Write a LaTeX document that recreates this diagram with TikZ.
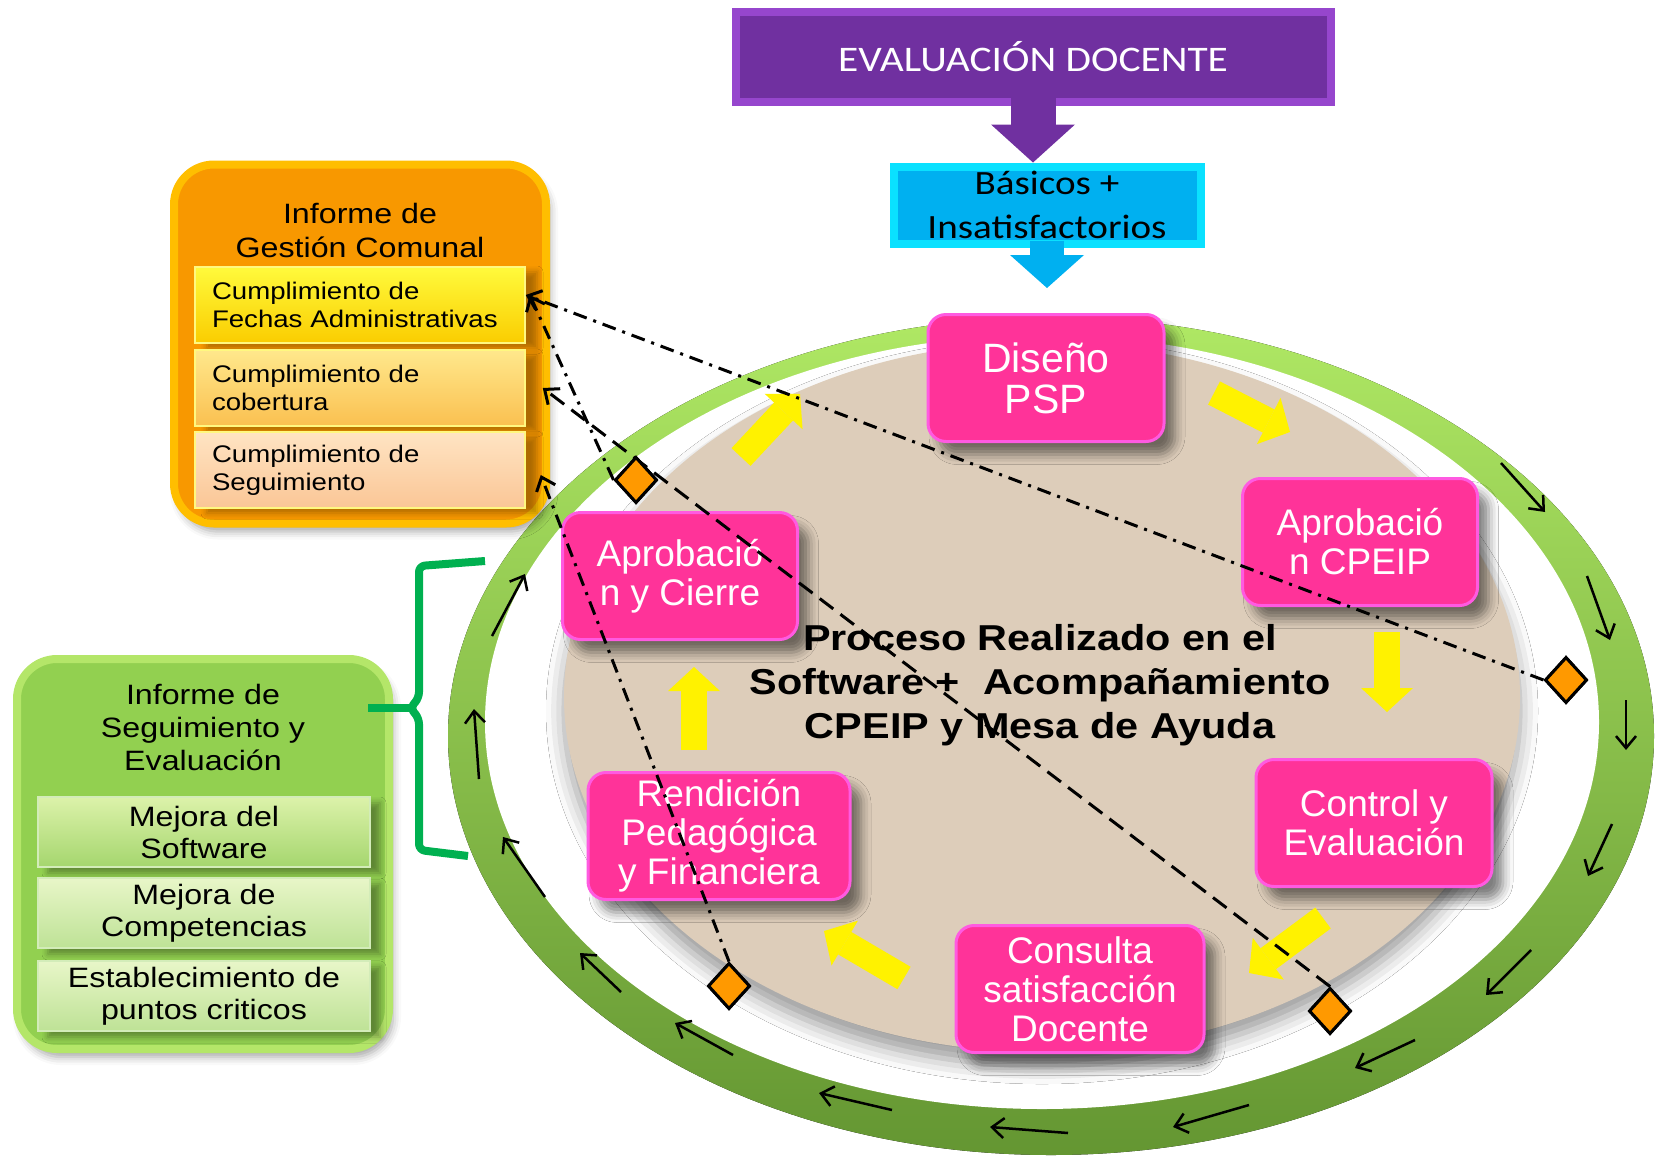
\documentclass[tikz,border=0pt]{standalone}
\usepackage{fontspec}
\setmainfont{Liberation Sans}
\newfontfamily\widefont{Liberation Sans}[FakeStretch=1.15]
\newfontfamily\calfont{Carlito}[FakeStretch=1.15]
\usetikzlibrary{arrows.meta,positioning,shapes.geometric,shadows.blur}
\definecolor{pinkbox}{RGB}{255,51,153}
\definecolor{pinkglow}{RGB}{255,90,225}
\definecolor{purplebox}{RGB}{112,48,160}
\definecolor{purpleglow}{RGB}{150,70,205}
\definecolor{cyanbox}{RGB}{0,176,240}
\definecolor{cyanglow}{RGB}{10,225,255}
\definecolor{orangebox}{RGB}{248,152,0}
\definecolor{orangeglow}{RGB}{255,190,0}
\definecolor{greenbox}{RGB}{146,208,80}
\definecolor{greenglow}{RGB}{180,230,105}
\definecolor{bracegreen}{RGB}{0,176,80}
\definecolor{disctan}{RGB}{221,205,186}
\definecolor{ringlight}{RGB}{175,232,100}
\definecolor{ringdark}{RGB}{100,150,50}
\definecolor{diamorange}{RGB}{255,153,0}
\definecolor{barya}{RGB}{255,250,60}
\definecolor{baryb}{RGB}{250,205,0}
\definecolor{barpa}{RGB}{255,232,140}
\definecolor{barpb}{RGB}{250,192,80}
\definecolor{barqa}{RGB}{255,228,195}
\definecolor{barqb}{RGB}{250,198,150}
\definecolor{barga}{RGB}{220,242,170}
\definecolor{bargb}{RGB}{165,214,110}
\definecolor{barha}{RGB}{232,246,200}
\definecolor{barhb}{RGB}{190,226,150}
\tikzstyle{pinkstep}=[rectangle,rounded corners=18pt,fill=pinkbox,draw=pinkglow,line width=3pt,text=white,align=center,minimum width=236pt,minimum height=127pt,inner sep=0pt,font=\fontsize{37}{39}\selectfont,blur shadow={shadow xshift=11pt,shadow yshift=-13pt,shadow blur radius=10pt,shadow opacity=50}]
\tikzstyle{orbar}=[rectangle,minimum width=330pt,minimum height=76pt,inner sep=0pt,draw=white!50!yellow,line width=1.5pt,text width=296pt,align=left,font=\widefont\fontsize{24}{28}\selectfont,blur shadow={shadow xshift=12pt,shadow yshift=-5pt,shadow blur radius=6pt,shadow opacity=30}]
\tikzstyle{grbar}=[rectangle,minimum width=332pt,minimum height=70pt,inner sep=0pt,draw=white!60!greenbox,line width=1.5pt,align=center,font=\widefont\fontsize{28}{32}\selectfont,blur shadow={shadow xshift=10pt,shadow yshift=-6pt,shadow blur radius=6pt,shadow opacity=35}]
\tikzstyle{yarrow}=[draw=yellow,line width=26pt,-{Triangle[length=24pt,width=52pt,line width=0pt]}]
\tikzstyle{ringarrow}=[draw=black,line width=2.5pt,-{Straight Barb[length=12pt,width=20pt]}]
\tikzstyle{dashdot}=[draw=black,line width=3pt,dash pattern=on 14pt off 7pt on 3pt off 7pt,-{Straight Barb[length=12pt,width=20pt]}]
\tikzstyle{longdash}=[draw=black,line width=3pt,dash pattern=on 17pt off 9pt,-{Straight Barb[length=12pt,width=20pt]}]
\tikzstyle{diam}=[diamond,fill=diamorange,draw=black,line width=3pt,minimum width=42pt,minimum height=46pt,inner sep=0pt]
\tikzstyle{brace}=[draw=bracegreen,line width=8pt,line join=round]
\begin{document}
\begin{tikzpicture}[x=1pt,y=-1pt]
\useasboundingbox (0,0) rectangle (1656,1159);
\fill[top color=ringlight,bottom color=ringdark] (1051,736) ellipse [x radius=603pt,y radius=419pt];
\fill[white] (1042,722) ellipse [x radius=557pt,y radius=387pt];
\fill[disctan,blur shadow={shadow xshift=0pt,shadow yshift=-14pt,shadow blur radius=18pt,shadow opacity=40}] (1042,697) ellipse [x radius=478pt,y radius=355pt];
\node[font=\widefont\bfseries\fontsize{36}{44}\selectfont,align=center] (proc) at (1040,685) {Proceso Realizado en el\\Software + \ Acompañamiento\\CPEIP y Mesa de Ayuda};
\node[pinkstep,font=\fontsize{41}{41}\selectfont] (dis) at (1046,378) {Diseño\\PSP};
\node[pinkstep,minimum width=235pt] (cpe) at (1360,542) {Aprobació\\n CPEIP};
\node[pinkstep] (con) at (1374,823) {Control y\\Evaluación};
\node[pinkstep,minimum width=248pt] (cns) at (1080,989) {Consulta\\satisfacción\\Docente};
\node[pinkstep,minimum width=262pt] (ren) at (719,836) {Rendición\\Pedagógica\\y Financiera};
\node[pinkstep,minimum width=235pt] (cie) at (680,576) {Aprobació\\n y Cierre};
\coordinate (y1a) at (741,457); \coordinate (y1b) at (800,394);
\coordinate (y2a) at (1214,393); \coordinate (y2b) at (1290,432);
\coordinate (y3a) at (1387,632); \coordinate (y3b) at (1387,712);
\coordinate (y4a) at (1323,918); \coordinate (y4b) at (1249,973);
\coordinate (y5a) at (904,978); \coordinate (y5b) at (824,931);
\coordinate (y6a) at (694,750); \coordinate (y6b) at (694,667);
\draw[yarrow] (y1a) -- (y1b);
\draw[yarrow] (y2a) -- (y2b);
\draw[yarrow] (y3a) -- (y3b);
\draw[yarrow] (y4a) -- (y4b);
\draw[yarrow] (y5a) -- (y5b);
\draw[yarrow] (y6a) -- (y6b);
\draw[ringarrow] (1501,463) -- (1545,512);
\draw[ringarrow] (1587,576) -- (1610,640);
\draw[ringarrow] (1626,700) -- (1626,750);
\draw[ringarrow] (1612,824) -- (1588,876);
\draw[ringarrow] (1531,950) -- (1486,995);
\draw[ringarrow] (1415,1040) -- (1355,1068);
\draw[ringarrow] (1249,1105) -- (1173,1127);
\draw[ringarrow] (1068,1133) -- (990,1127);
\draw[ringarrow] (892,1110) -- (819,1093);
\draw[ringarrow] (733,1055) -- (675,1023);
\draw[ringarrow] (621,992) -- (580,953);
\draw[ringarrow] (545,897) -- (503,837);
\draw[ringarrow] (479,779) -- (474,709);
\draw[ringarrow] (492,636) -- (525,574);
\node[rectangle,rounded corners=40pt,fill=orangebox,draw=orangeglow,line width=8pt,minimum width=372pt,minimum height=359pt,blur shadow={shadow xshift=4pt,shadow yshift=-8pt,shadow blur radius=8pt,shadow opacity=35}] (ges) at (360,344) {};
\node[font=\widefont\fontsize{28}{34}\selectfont,align=center] (gestit) at (360,230) {Informe de\\Gestión Comunal};
\node[orbar,top color=barya,bottom color=baryb] (fec) at (360,305) {Cumplimiento de\\Fechas Administrativas};
\node[orbar,top color=barpa,bottom color=barpb] (cob) at (360,388) {Cumplimiento de\\cobertura};
\node[orbar,top color=barqa,bottom color=barqb] (sgm) at (360,470) {Cumplimiento de\\Seguimiento};
\node[rectangle,rounded corners=40pt,fill=greenbox,draw=greenglow,line width=8pt,minimum width=372pt,minimum height=390pt,blur shadow={shadow xshift=4pt,shadow yshift=-8pt,shadow blur radius=8pt,shadow opacity=35}] (seg) at (203,854) {};
\node[font=\widefont\fontsize{28}{33}\selectfont,align=center] (segtit) at (203,727) {Informe de\\Seguimiento y\\Evaluación};
\node[grbar,top color=barga,bottom color=bargb] (sof) at (204,832) {Mejora del\\Software};
\node[grbar,top color=barha,bottom color=barhb] (cmp) at (204,913) {Mejora de\\Competencias};
\node[grbar,top color=barha,bottom color=barhb] (pto) at (204,996) {Establecimiento de\\puntos criticos};
\coordinate (tip) at (410,708);
\draw[brace] ([xshift=-25pt,yshift=146pt]seg.east) -- (tip);
\draw[brace,rounded corners=6pt] (485,561) -- (419,566) -- (419,698) -- (tip) -- (419,718) -- (419,850) -- (468,856);
\node[rectangle,fill=purplebox,draw=purpleglow,line width=8pt,minimum width=595pt,minimum height=90pt,text=white,font=\calfont\fontsize{36}{40}\selectfont] (eval) at (1033,57) {EVALUACIÓN DOCENTE};
\node[rectangle,fill=cyanbox,draw=cyanglow,line width=8pt,minimum width=307pt,minimum height=77pt,inner sep=0pt,align=center,font=\calfont\fontsize{34}{44}\selectfont] (bas) at (1047,205) {Básicos +\\Insatisfactorios};
\draw[draw=purplebox,line width=45pt,-{Triangle[length=38pt,width=84pt,line width=0pt]}] ([yshift=14pt]eval.south) -- (eval.south |- bas.north);
\draw[draw=cyanbox,line width=34pt,-{Triangle[length=33pt,width=74pt,line width=0pt]}] ([yshift=7pt]bas.south) -- ([yshift=25pt]bas.south |- dis.north);
\node[diam] (dtl) at (636,480) {};
\node[diam] (dr) at (1566,680) {};
\node[diam] (dbr) at (1330,1011) {};
\node[diam] (dbl) at (729,986) {};
\draw[dashdot] (dr.west) -- ([yshift=10pt]fec.east);
\draw[dashdot] (dtl.west) -- ([xshift=4pt,yshift=10pt]fec.east);
\draw[longdash] (dbr.north) -- ([xshift=17pt]cob.east);
\draw[dashdot] (dbl.north) -- ([xshift=15pt,yshift=-5pt]sgm.east);
\node[diam] at (dtl) {};
\node[diam] at (dr) {};
\node[diam] at (dbr) {};
\node[diam] at (dbl) {};
\end{tikzpicture}
\end{document}
